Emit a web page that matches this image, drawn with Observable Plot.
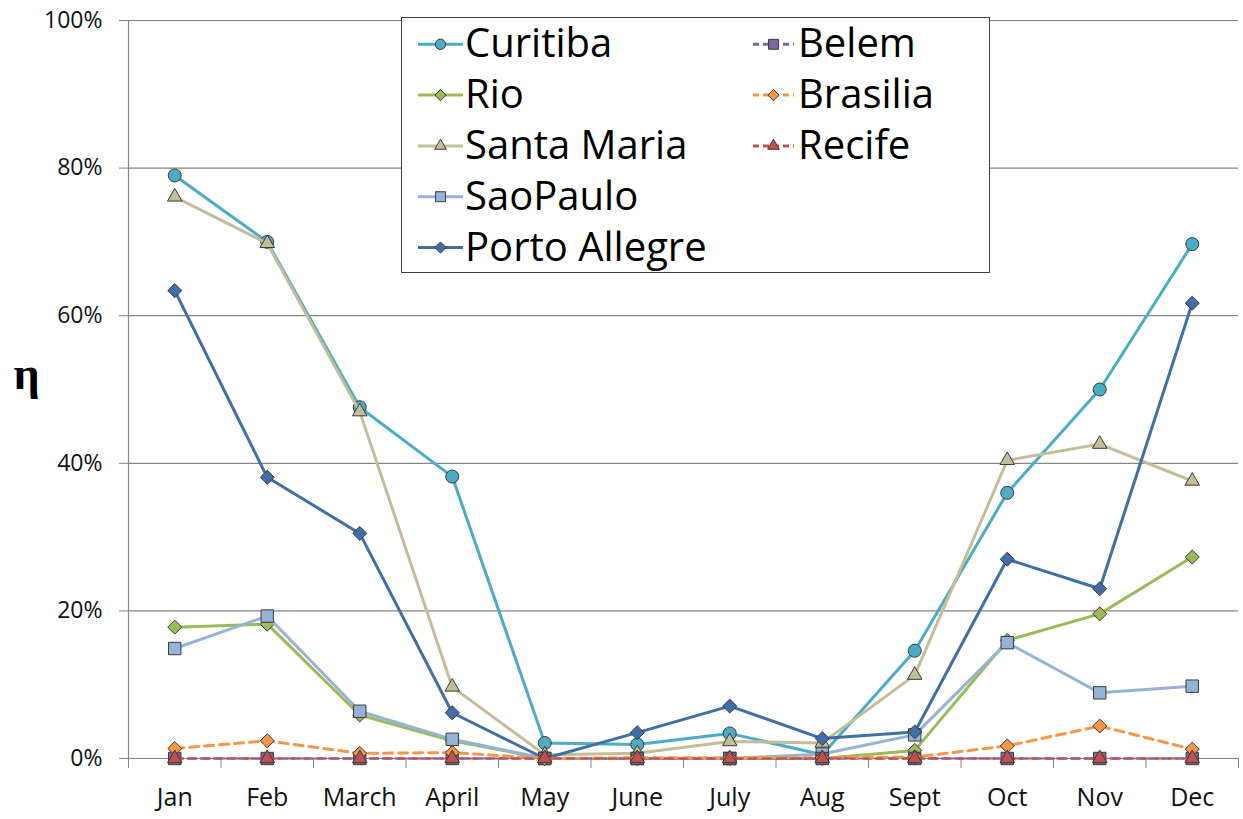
<!DOCTYPE html>
<html><head><meta charset="utf-8">
<script src="https://cdn.jsdelivr.net/npm/d3@7"></script>
<script src="https://cdn.jsdelivr.net/npm/@observablehq/plot@0.6"></script>
<style>
body{margin:0;background:#fff;}
#wrap{position:relative;width:1243px;height:819px;overflow:hidden;}
#legend{position:absolute;left:401px;top:17px;width:589px;height:256px;border:1.5px solid #404040;background:#fff;box-sizing:border-box;}
#legend svg{position:absolute;left:0;top:0;overflow:visible;}
</style></head><body><div id="wrap"></div>
<script>
const months = ["Jan","Feb","March","April","May","June","July","Aug","Sept","Oct","Nov","Dec"];
const yTicks = [0,20,40,60,80,100];
const seriesNames = ["Curitiba","Rio","Santa Maria","SaoPaulo","Porto Allegre","Belem","Brasilia","Recife"];
const curitiba     = [79.0,70.0,47.6,38.2,2.1,1.9,3.4,0.5,14.6,36.0,50.0,69.7];
const rio          = [17.8,18.2,5.9,2.4,0,0,0,0,1.1,16.0,19.6,27.3];
const santaMaria   = [76.1,69.8,47.0,9.7,0.5,0.7,2.3,2.1,11.3,40.4,42.6,37.6];
const saoPaulo     = [14.9,19.3,6.4,2.6,0,0,0,0.6,3.2,15.7,8.9,9.8];
const portoAllegre = [63.4,38.1,30.5,6.2,0,3.5,7.1,2.7,3.6,27.0,23.0,61.7];
const belem        = [0,0,0,0,0,0,0,0,0,0,0,0];
const brasilia     = [1.35,2.4,0.7,0.8,0,0.1,0.1,0.1,0.2,1.7,4.4,1.26];
const recife       = [0,0,0,0,0,0,0,0,0,0,0,0];
const seriesValues = [curitiba,rio,santaMaria,saoPaulo,portoAllegre,belem,brasilia,recife];

const diamond = {draw(ctx, size){ const r = Math.sqrt(size/2); ctx.moveTo(0,-r); ctx.lineTo(r,0); ctx.lineTo(0,r); ctx.lineTo(-r,0); ctx.closePath(); }};
const styles = [
  {color:"#4bacc6", symbol:"circle",   r:6.5, dash:null, w:3},
  {color:"#9bbb59", symbol:diamond,    r:5.6, dash:null, w:3},
  {color:"#c4bd97", symbol:"triangle", r:5.4, dash:null, w:3},
  {color:"#95b3d7", symbol:"square",   r:7.0, dash:null, w:3},
  {color:"#3f6ea8", symbol:diamond,    r:5.6, dash:null, w:3},
  {color:"#8064a2", symbol:"square",   r:7.0, dash:"8,5", w:2.5},
  {color:"#f79646", symbol:diamond,    r:5.6, dash:"9,6", w:3},
  {color:"#c0504d", symbol:"triangle", r:5.4, dash:"8,6", w:2}
];

const table = seriesNames.map((name, s) => seriesValues[s].map((v, i) => ({series: name, month: months[i], xi: i + 0.5, v})));

const marks = [
  Plot.gridY(yTicks, {stroke:"#868686", strokeOpacity:1, strokeWidth:1.2}),
  Plot.ruleX([0], {y1:0, y2:100, stroke:"#868686", strokeWidth:1.2}),
  Plot.axisY(yTicks, {tickSize:9, tickPadding:17, tickFormat: d => d + "%", stroke:"#868686", fill:"#111", fontSize:23, fontFamily:"Open Sans", label:null}),
  Plot.axisX(d3.range(months.length + 1), {tickSize:10, tickFormat: () => "", stroke:"#868686", label:null}),
  Plot.axisX(months.map((m, i) => i + 0.5), {tickSize:0, tickPadding:30, tickFormat: d => months[Math.floor(d)], fill:"#111", fontSize:25, fontFamily:"Open Sans", label:null}),
  Plot.text(["η"], {frameAnchor:"left", dx:-115, dy:-15, fontSize:46, fontWeight:"bold", fontFamily:"Liberation Serif", fill:"#000"})
];
table.forEach((rows, s) => {
  const st = styles[s];
  marks.push(Plot.line(rows, {x:"xi", y:"v", stroke:st.color, strokeWidth:st.w, strokeDasharray:st.dash, strokeLinejoin:"round"}));
  marks.push(Plot.dot(rows, {x:"xi", y:"v", symbol:st.symbol, r:st.r, fill:st.color, stroke:"#3a3a3a", strokeWidth:1}));
});

const chart = Plot.plot({
  width:1243, height:819,
  marginLeft:128, marginRight:5, marginTop:20, marginBottom:61,
  x:{type:"linear", domain:[0, months.length], axis:null},
  y:{domain:[0,100], axis:null},
  style:{background:"#fff", fontFamily:"Open Sans"},
  marks
});
const wrap = document.getElementById("wrap");
wrap.appendChild(chart);

// legend overlay
const legend = document.createElement("div");
legend.id = "legend";
wrap.appendChild(legend);
const svg = d3.select(legend).append("svg").attr("width", 586).attr("height", 253);
const rowY = [26.3, 77.1, 127.9, 178.7, 229.5];
seriesNames.forEach((name, s) => {
  const col = s < 5 ? 0 : 1, row = s < 5 ? s : s - 5;
  const x0 = col ? 351 : 16, x1 = col ? 392 : 61, cx = (x0 + x1) / 2, cy = rowY[row];
  const st = styles[s];
  svg.append("line").attr("x1", x0).attr("x2", x1).attr("y1", cy).attr("y2", cy)
    .attr("stroke", st.color).attr("stroke-width", 3).attr("stroke-dasharray", st.dash ? "6,4" : null);
  let sym = st.symbol === "circle" ? d3.symbolCircle : st.symbol === "square" ? d3.symbolSquare : st.symbol === "triangle" ? d3.symbolTriangle : diamond;
  const rr = st.r * 0.8;
  svg.append("path").attr("d", d3.symbol(sym, Math.PI * rr * rr)()).attr("transform", `translate(${cx},${cy})`)
    .attr("fill", st.color).attr("stroke", "#3a3a3a").attr("stroke-width", 1);
  svg.append("text").attr("x", col ? 396 : 63).attr("y", cy + 13)
    .attr("font-family", "Open Sans").attr("font-size", 40).attr("fill", "#000").text(name);
});
</script>
</body></html>
